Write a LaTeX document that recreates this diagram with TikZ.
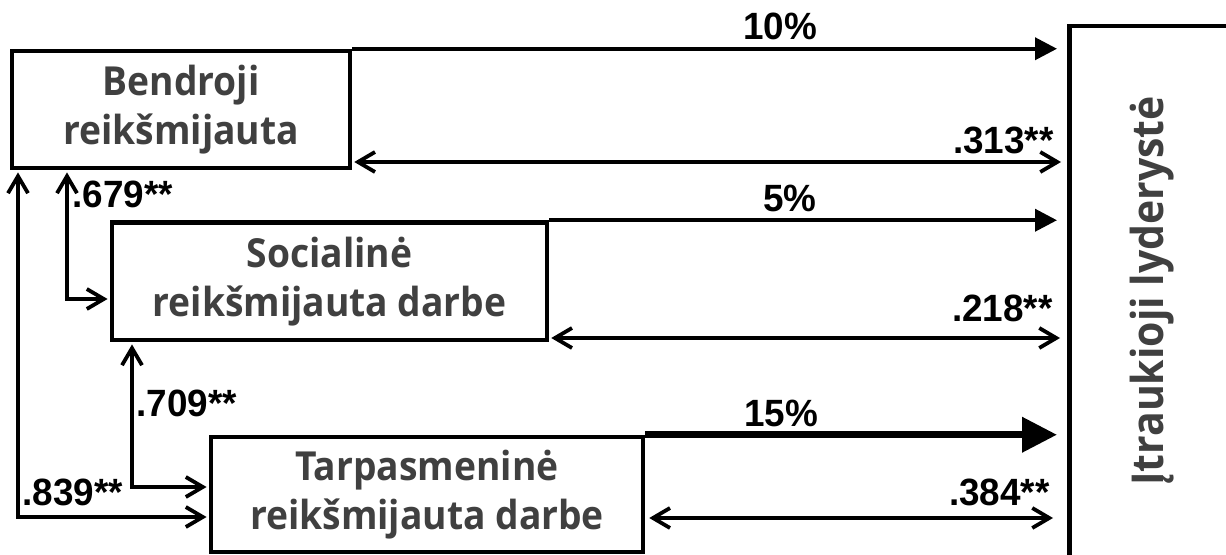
\documentclass[tikz,border=0pt]{standalone}
\usepackage{fontspec}
\setmainfont{Liberation Sans}[FakeStretch=0.97]
\newfontfamily\boxfont{Open Sans}[FakeStretch=0.93]
\usetikzlibrary{arrows.meta,calc}
\definecolor{txtgray}{HTML}{404040}
\begin{document}
\begin{tikzpicture}[x=0.5pt,y=-0.5pt,
  varbox/.style={draw=black,line width=2.25pt,fill=white,align=center,inner sep=0pt,
    font=\boxfont\bfseries\fontsize{20}{24.5}\selectfont,text=txtgray},
  conn/.style={draw=black,line width=1.9pt},
  dblarrow/.style={conn,{Straight Barb[length=8.5pt,width=10pt]}-{Straight Barb[length=8.5pt,width=10pt]}},
  pctarrow/.style={conn,-{Triangle[length=11pt,width=11pt]}},
  bigpctarrow/.style={draw=black,line width=3.5pt,-{Triangle[length=17.5pt,width=17pt]}},
  coef/.style={font=\bfseries\fontsize{19}{21}\selectfont,inner sep=0pt}
]
\clip (0,0) rectangle (1226,555);
\fill[white] (0,0) rectangle (1226,555);

% boxes
\node[varbox,minimum width=169pt,minimum height=58.5pt] (b1) at (181,109.5) {Bendroji\\reikšmijauta};
\node[varbox,minimum width=217.5pt,minimum height=58.75pt] (b2) at (329.5,281.25) {Socialinė\\reikšmijauta darbe};
\node[varbox,minimum width=216pt,minimum height=57.5pt] (b3) at (427,494.5) {Tarpasmeninė\\reikšmijauta darbe};
\node[draw=black,line width=2.25pt,anchor=north west,minimum width=150pt,minimum height=300pt,inner sep=0pt] (r) at (1067,24) {};
\node[rotate=90,anchor=base,font=\boxfont\bfseries\fontsize{22}{26}\selectfont,text=txtgray,inner sep=0pt] (t) at (1163,291) {Įtraukioji lyderystė};

% helper coordinates
\coordinate (rx) at (1057,0);
\coordinate (x313) at (1061,0);
\coordinate (y313) at (0,162);
\coordinate (x218) at (1060,0);
\coordinate (y218) at (0,338);
\coordinate (x384) at (1053,0);
\coordinate (y384) at (0,518);
\coordinate (x839) at (18,0);
\coordinate (y839) at (0,517);
\coordinate (x679) at (67,0);
\coordinate (y679) at (0,299);
\coordinate (x709) at (132,0);
\coordinate (y709) at (0,487);

% percent arrows
\draw[pctarrow] (b1.north east) -- (b1.north east -| rx);
\draw[pctarrow] (b2.north east) -- (b2.north east -| rx);
\draw[bigpctarrow] (b3.north east) -- (b3.north east -| rx);

% correlation arrows to outcome
\draw[dblarrow,shorten <=1pt] (b1.east |- y313) -- (x313 |- y313);
\draw[dblarrow,shorten <=1pt] (b2.east |- y218) -- (x218 |- y218);
\draw[dblarrow,shorten <=2pt] (b3.east |- y384) -- (x384 |- y384);

% left correlation connectors
\draw[dblarrow,shorten <=1.1pt,shorten >=1.1pt] (b1.south -| x679) |- (b2.west |- y679);
\draw[dblarrow,shorten <=1.1pt,shorten >=1.1pt] (b1.south -| x839) |- (b3.west |- y839);
\draw[dblarrow,shorten <=1.1pt,shorten >=1.1pt] (b2.south -| x709) |- (b3.west |- y709);

% labels
\node[coef,anchor=base west] (l679) at (72,208) {.679**};
\node[coef,anchor=base west] (l709) at (136,417) {.709**};
\node[coef,anchor=base west] (l839) at (22,505) {.839**};
\node[coef,anchor=base] (l10) at (780,40) {10\%};
\node[coef,anchor=base] (l5) at (790,212) {5\%};
\node[coef,anchor=base] (l15) at (781,427) {15\%};
\node[coef,anchor=base east] (l313) at (1054,154) {.313**};
\node[coef,anchor=base east] (l218) at (1053,322) {.218**};
\node[coef,anchor=base east] (l384) at (1050,505) {.384**};
\end{tikzpicture}
\end{document}
